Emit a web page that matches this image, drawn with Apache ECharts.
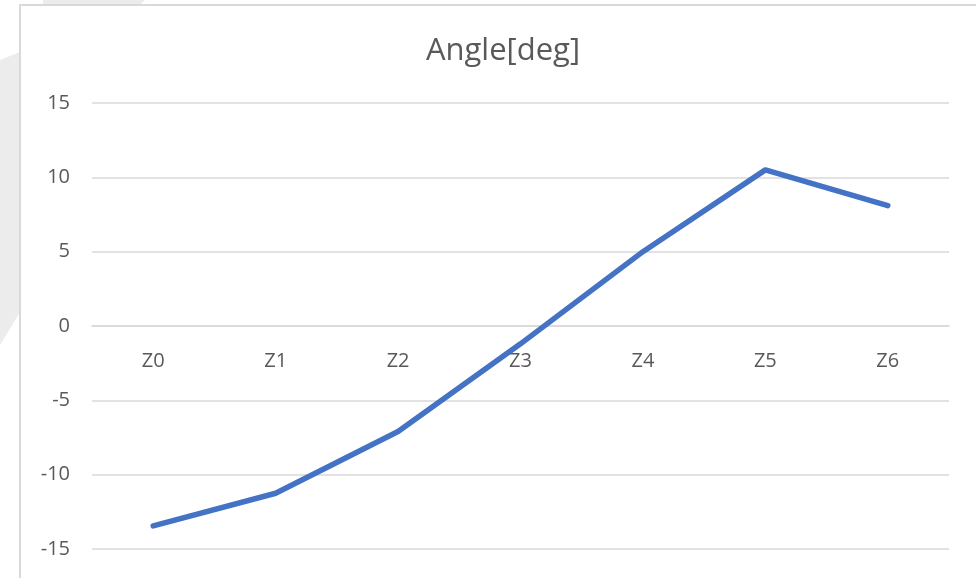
<!DOCTYPE html>
<html>
<head>
<meta charset="utf-8">
<title>Angle[deg]</title>
<script src="https://cdn.jsdelivr.net/npm/echarts@6/dist/echarts.min.js"></script>
<style>
  html, body { margin: 0; padding: 0; background: #ffffff; }
  #chart { width: 976px; height: 578px; }
</style>
</head>
<body>
<div id="chart"></div>
<script>
// Stations along the path and the angle measured at each
const categories = ['Z0', 'Z1', 'Z2', 'Z3', 'Z4', 'Z5', 'Z6'];
const angleDeg = [-13.45, -11.25, -7.1, -1.2, 5.0, 10.5, 8.1];
const chartTitle = 'Angle[deg]';

const axisTextColor = '#595959';
const gridColor = '#d9d9d9';
const fontFamily = '"Open Sans", sans-serif';

const gridTop = 103;
const gridBottom = 29;
const plotHeight = 578 - gridTop - gridBottom;

const chart = echarts.init(document.getElementById('chart'), null, { renderer: 'canvas' });

chart.setOption({
  animation: false,
  backgroundColor: '#ffffff',
  title: {
    text: chartTitle,
    left: 498,
    top: 31,
    textAlign: 'center',
    textStyle: { color: axisTextColor, fontSize: 31, fontWeight: 'normal', fontFamily: fontFamily }
  },
  graphic: [
    // faint decorative shapes behind the frame
    { type: 'polygon', z: -10, silent: true,
      shape: { points: [[0, 60], [20, 52], [20, 312], [0, 345]] },
      style: { fill: '#ececec' } },
    { type: 'polygon', z: -10, silent: true,
      shape: { points: [[43, 0], [145, 0], [140, 5], [43, 5]] },
      style: { fill: '#ececec' } },
    // chart frame
    { type: 'rect', z: -5, silent: true,
      shape: { x: 20, y: 5, width: 970, height: 590 },
      style: { fill: '#ffffff', stroke: gridColor, lineWidth: 2 } }
  ],
  grid: {
    left: 92, right: 27, top: gridTop, bottom: gridBottom,
    containLabel: false, outerBoundsMode: 'none'
  },
  xAxis: {
    type: 'category',
    data: categories,
    boundaryGap: true,
    position: 'bottom',
    // the category axis sits on the zero line (middle of the -15..15 range)
    offset: -plotHeight / 2,
    axisLine: { show: true, onZero: false, lineStyle: { color: gridColor, width: 1.5 } },
    axisTick: { show: false },
    axisLabel: { color: axisTextColor, fontSize: 20, fontFamily: fontFamily, margin: 25 },
    splitLine: { show: false }
  },
  yAxis: {
    type: 'value',
    min: -15,
    max: 15,
    interval: 5,
    axisLine: { show: false },
    axisTick: { show: false },
    axisLabel: { color: axisTextColor, fontSize: 20, fontFamily: fontFamily, margin: 22 },
    splitLine: { show: true, lineStyle: { color: gridColor, width: 1.5 } }
  },
  series: [{
    type: 'line',
    data: angleDeg,
    showSymbol: false,
    symbol: 'none',
    lineStyle: { color: '#4472C4', width: 5.5, cap: 'round', join: 'round' },
    z: 3
  }]
});
</script>
</body>
</html>
